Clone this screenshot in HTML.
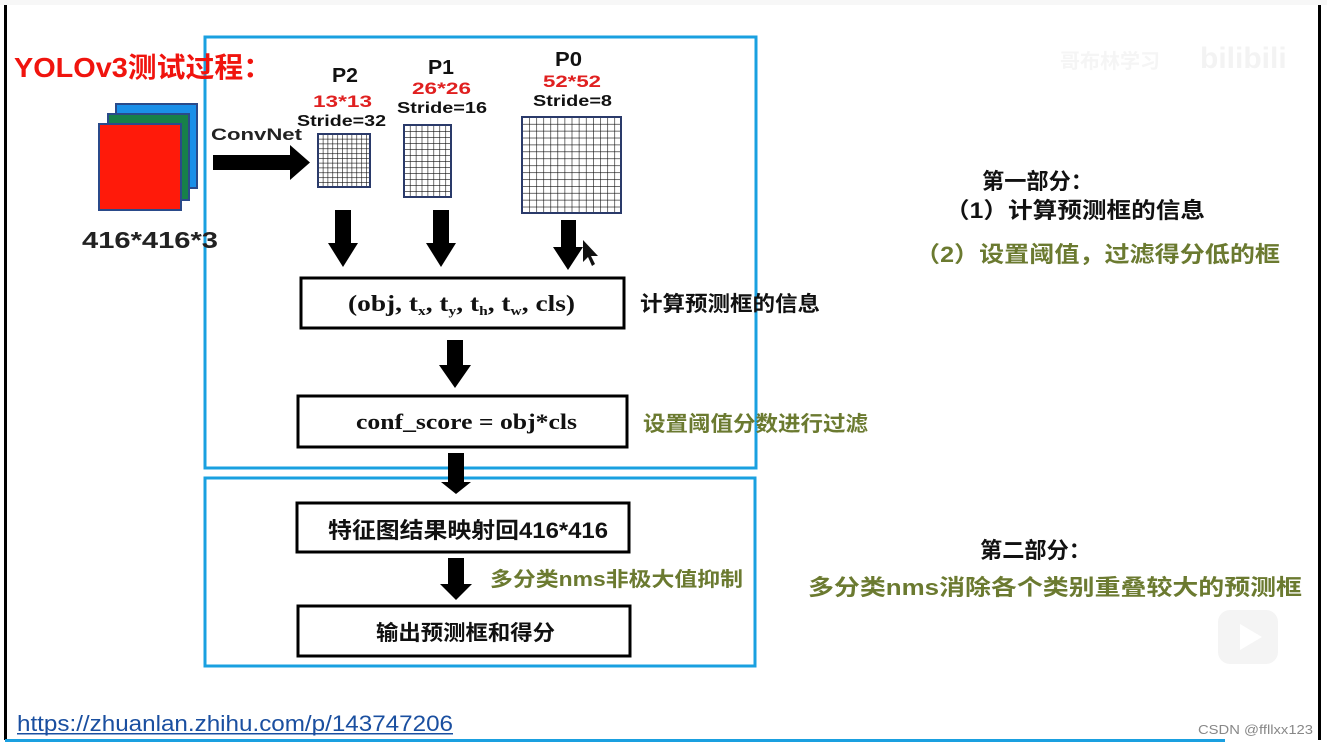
<!DOCTYPE html>
<html><head><meta charset="utf-8"><style>
html,body{margin:0;padding:0;background:#fff;}
svg{display:block;}
text{font-family:"Liberation Sans","Noto Sans CJK SC",sans-serif;font-weight:bold;}
</style></head><body>
<svg width="1327" height="745" viewBox="0 0 1327 745" xmlns="http://www.w3.org/2000/svg">
<defs>
<pattern id="g1" width="4.8" height="4.8" patternUnits="userSpaceOnUse" x="318" y="134"><path d="M0 0H4.8M0 0V4.8" stroke="#111" stroke-width="1.2" fill="none"/></pattern>
<pattern id="g2" width="5.9" height="6" patternUnits="userSpaceOnUse" x="404" y="125"><path d="M0 0H5.9M0 0V6" stroke="#111" stroke-width="1.2" fill="none"/></pattern>
<pattern id="g3" width="7.1" height="6.9" patternUnits="userSpaceOnUse" x="522" y="117"><path d="M0 0H7.1M0 0V6.9" stroke="#111" stroke-width="1.2" fill="none"/></pattern>
</defs>
<rect x="0" y="0" width="1327" height="5" fill="#f7f7f7"/>
<rect x="4" y="5" width="3" height="735" fill="#000"/>
<rect x="1318" y="5" width="3" height="735" fill="#000"/>
<rect x="205" y="37" width="551" height="431" fill="none" stroke="#1aa0e0" stroke-width="3"/>
<rect x="205" y="478" width="550" height="188" fill="none" stroke="#1aa0e0" stroke-width="3"/>
<text x="14" y="77" font-size="28" fill="#f0140e" textLength="258" lengthAdjust="spacingAndGlyphs">YOLOv3测试过程：</text>
<rect x="116" y="104" width="81" height="84" fill="#1a8fe8" stroke="#2a4a8a" stroke-width="2"/>
<rect x="108" y="114" width="81" height="86" fill="#17804a" stroke="#2a4a8a" stroke-width="2"/>
<rect x="99" y="124" width="82" height="86" fill="#ff1a0a" stroke="#2a4a8a" stroke-width="2"/>
<text x="82" y="248" font-size="23" fill="#222" textLength="136" lengthAdjust="spacingAndGlyphs">416*416*3</text>
<text x="211" y="140" font-size="17" fill="#222" textLength="91" lengthAdjust="spacingAndGlyphs">ConvNet</text>
<path d="M213 155H290V145L310 162.5L290 180V170H213Z" fill="#000"/>
<rect x="318" y="134" width="52" height="53" fill="url(#g1)" stroke="#2a3a6a" stroke-width="2"/>
<rect x="404" y="125" width="47" height="72" fill="url(#g2)" stroke="#2a3a6a" stroke-width="2"/>
<rect x="522" y="117" width="99" height="96" fill="url(#g3)" stroke="#2a3a6a" stroke-width="2"/>
<text x="332" y="82" font-size="20" fill="#111" textLength="26" lengthAdjust="spacingAndGlyphs">P2</text>
<text x="313" y="107" font-size="17" fill="#e02020" textLength="59" lengthAdjust="spacingAndGlyphs">13*13</text>
<text x="297" y="126" font-size="16" fill="#111" textLength="89" lengthAdjust="spacingAndGlyphs">Stride=32</text>
<text x="428" y="74" font-size="20" fill="#111" textLength="26" lengthAdjust="spacingAndGlyphs">P1</text>
<text x="412" y="94" font-size="17" fill="#e02020" textLength="59" lengthAdjust="spacingAndGlyphs">26*26</text>
<text x="397" y="113" font-size="16" fill="#111" textLength="90" lengthAdjust="spacingAndGlyphs">Stride=16</text>
<text x="555" y="66" font-size="20" fill="#111" textLength="27" lengthAdjust="spacingAndGlyphs">P0</text>
<text x="543" y="87" font-size="17" fill="#e02020" textLength="58" lengthAdjust="spacingAndGlyphs">52*52</text>
<text x="533" y="106" font-size="16" fill="#111" textLength="79" lengthAdjust="spacingAndGlyphs">Stride=8</text>
<path d="M335 210H351V243H358L343 267L328 243H335Z" fill="#000"/>
<path d="M433 210H449V243H456L441 267L426 243H433Z" fill="#000"/>
<path d="M561 220H576V247H583L568 270L553 247H561Z" fill="#000"/>
<path d="M583 240L583 262L588 257L592 266L595 264L591 256L598 256Z" fill="#111"/>
<rect x="301" y="278" width="323" height="50" fill="#fff" stroke="#000" stroke-width="3"/>
<text x="348" y="311" font-size="23" fill="#111" textLength="227" lengthAdjust="spacingAndGlyphs" style="font-family:'Liberation Serif',serif">(obj, t<tspan font-size="13" dy="4">x</tspan><tspan dy="-4">, t</tspan><tspan font-size="13" dy="4">y</tspan><tspan dy="-4">, t</tspan><tspan font-size="13" dy="4">h</tspan><tspan dy="-4">, t</tspan><tspan font-size="13" dy="4">w</tspan><tspan dy="-4">, cls)</tspan></text>
<text x="640" y="311" font-size="21" fill="#111" textLength="180" lengthAdjust="spacingAndGlyphs">计算预测框的信息</text>
<path d="M447 340H463V365H471L455 388L439 365H447Z" fill="#000"/>
<rect x="298" y="396" width="329" height="51" fill="#fff" stroke="#000" stroke-width="3"/>
<text x="356" y="429" font-size="22" fill="#111" textLength="221" lengthAdjust="spacingAndGlyphs" style="font-family:'Liberation Serif',serif">conf_score = obj*cls</text>
<text x="643" y="431" font-size="21" fill="#6b7a30" textLength="225" lengthAdjust="spacingAndGlyphs">设置阈值分数进行过滤</text>
<path d="M448 453H464V482H471L456 494L441 482H448Z" fill="#000"/>
<rect x="297" y="503" width="332" height="49" fill="#fff" stroke="#000" stroke-width="3"/>
<text x="328" y="538" font-size="22" fill="#111" textLength="280" lengthAdjust="spacingAndGlyphs">特征图结果映射回416*416</text>
<path d="M448 558H464V584H472L456 600L440 584H448Z" fill="#000"/>
<text x="490" y="586" font-size="20" fill="#6b7a30" textLength="253" lengthAdjust="spacingAndGlyphs">多分类nms非极大值抑制</text>
<rect x="298" y="606" width="332" height="50" fill="#fff" stroke="#000" stroke-width="3"/>
<text x="376" y="640" font-size="21" fill="#111" textLength="179" lengthAdjust="spacingAndGlyphs">输出预测框和得分</text>
<text x="982" y="189" font-size="22" fill="#111" textLength="111" lengthAdjust="spacingAndGlyphs">第一部分：</text>
<text x="945" y="218" font-size="22" fill="#111" textLength="260" lengthAdjust="spacingAndGlyphs">（1）计算预测框的信息</text>
<text x="915" y="262" font-size="22" fill="#6b7a30" textLength="365" lengthAdjust="spacingAndGlyphs">（2）设置阈值，过滤得分低的框</text>
<text x="980" y="558" font-size="22" fill="#111" textLength="111" lengthAdjust="spacingAndGlyphs">第二部分：</text>
<text x="808" y="595" font-size="22" fill="#6b7a30" textLength="494" lengthAdjust="spacingAndGlyphs">多分类nms消除各个类别重叠较大的预测框</text>
<text x="1060" y="68" font-size="20" fill="#f5f5f5">哥布林学习</text>
<text x="1200" y="68" font-size="30" fill="#f3f3f3">bilibili</text>
<rect x="1218" y="610" width="60" height="54" rx="12" fill="#f4f4f4"/>
<path d="M1240 624L1240 650L1262 637Z" fill="#fff"/>
<text x="17" y="731" font-size="22" fill="#1a4fa0" textLength="436" lengthAdjust="spacingAndGlyphs" style="font-weight:normal">https://zhuanlan.zhihu.com/p/143747206</text>
<rect x="17" y="733" width="436" height="1.5" fill="#1a4fa0"/>
<rect x="5" y="739" width="1220" height="3" fill="#1aa0e0"/>
<text x="1198" y="734" font-size="13" fill="#888" textLength="115" lengthAdjust="spacingAndGlyphs" style="font-weight:normal">CSDN @ffllxx123</text>
</svg>
</body></html>
